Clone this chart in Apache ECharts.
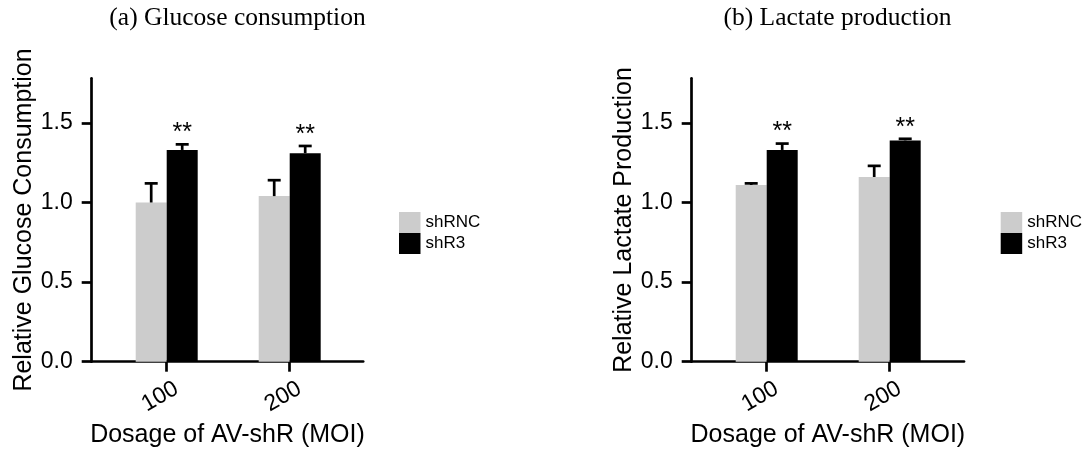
<!DOCTYPE html>
<html><head><meta charset="utf-8">
<script src="https://cdn.jsdelivr.net/npm/echarts@6/dist/echarts.min.js"></script>
<style>html,body{margin:0;padding:0;background:#fff}#c{width:1089px;height:454px}</style>
</head><body><div id="c"></div>
<script>
// ---- data ----
const categories = ['100', '200'];
const seriesNames = ['shRNC', 'shR3'];
const glucoseRNC = [1.00, 1.04];
const glucoseRNCErr = [0.12, 0.10];
const glucoseR3 = [1.33, 1.31];
const glucoseR3Err = [0.035, 0.045];
const glucoseSig = ['**', '**'];
const lactateRNC = [1.11, 1.16];
const lactateRNCErr = [0.01, 0.07];
const lactateR3 = [1.33, 1.39];
const lactateR3Err = [0.04, 0.01];
const lactateSig = ['**', '**'];
const yTicks = [0, 0.5, 1.0, 1.5];
const yMax = 1.78;
const panelTitles = ['(a) Glucose consumption', '(b) Lactate production'];
const yNames = ['Relative Glucose Consumption', 'Relative Lactate Production'];
const xName = 'Dosage of AV-shR (MOI)';

// ---- layout / style ----
const SANS = '"Liberation Sans", Arial, Helvetica, sans-serif';
const SERIF = '"Liberation Serif", "Times New Roman", serif';
const COLORS = ['#cccccc', '#000000'];
const TOP = 78.3, HEIGHT = 283.4, BARW = 31, LW = 2.7;
const panels = [
  { frameLeft: 91.7, frameWidth: 271.5, barLeft: 105.2, titleX: 237.5, legendLeft: 399,
    rnc: glucoseRNC, rncErr: glucoseRNCErr, r3: glucoseR3, r3Err: glucoseR3Err, sig: glucoseSig },
  { frameLeft: 691.7, frameWidth: 272.3, barLeft: 705.2, titleX: 837.5, legendLeft: 1000.7,
    rnc: lactateRNC, rncErr: lactateRNCErr, r3: lactateR3, r3Err: lactateR3Err, sig: lactateSig }
];

function errRender(offset, sig) {
  return function (params, api) {
    const i = api.value(0), v = api.value(1), e = api.value(2);
    const p0 = api.coord([i, v]);
    const p1 = api.coord([i, v + e]);
    const x = p0[0] + offset;
    const children = [
      { type: 'line', shape: { x1: x, y1: p0[1], x2: x, y2: p1[1] }, style: { stroke: '#000', lineWidth: LW } },
      { type: 'line', shape: { x1: x - 6.5, y1: p1[1], x2: x + 6.5, y2: p1[1] }, style: { stroke: '#000', lineWidth: LW } }
    ];
    if (sig && sig[params.dataIndex]) {
      children.push({ type: 'text', style: { text: sig[params.dataIndex], x: x, y: p1[1] - 11,
        align: 'center', verticalAlign: 'middle', font: '25px ' + SANS, fill: '#000' } });
    }
    return { type: 'group', children: children };
  };
}

const option = { animation: false, backgroundColor: '#fff',
  title: [], grid: [], xAxis: [], yAxis: [], series: [], legend: [] };

panels.forEach(function (p, k) {
  const gFrame = 2 * k, gBar = 2 * k + 1;
  option.title.push({ text: panelTitles[k], left: p.titleX, top: 5, textAlign: 'center', padding: 0,
    textStyle: { fontFamily: SERIF, fontSize: 25.5, fontWeight: 'normal', color: '#000' } });
  option.grid.push({ left: p.frameLeft, top: TOP, width: p.frameWidth, height: HEIGHT });
  option.grid.push({ left: p.barLeft, top: TOP, width: 246, height: HEIGHT });
  // frame axes (x axis line + axis name)
  option.xAxis.push({ type: 'value', gridIndex: gFrame, min: 0, max: 1,
    axisLine: { show: true, lineStyle: { color: '#000', width: LW } },
    axisTick: { show: false }, axisLabel: { show: false }, splitLine: { show: false },
    name: xName, nameLocation: 'middle', nameGap: 61,
    nameTextStyle: { fontFamily: SANS, fontSize: 25, color: '#000' } });
  option.yAxis.push({ type: 'value', gridIndex: gFrame, min: 0, max: yMax, show: false });
  // bar axes
  option.xAxis.push({ type: 'category', gridIndex: gBar, data: categories,
    axisLine: { show: false },
    axisTick: { show: true, alignWithLabel: true, length: 10, lineStyle: { color: '#000', width: LW } },
    axisLabel: { rotate: 30, margin: 8, verticalAlign: 'top', lineHeight: 40,
      fontFamily: SANS, fontSize: 23, color: '#000' },
    splitLine: { show: false } });
  option.yAxis.push({ type: 'value', gridIndex: gBar, min: 0, max: yMax, offset: p.barLeft - p.frameLeft,
    axisLine: { show: true, lineStyle: { color: '#000', width: LW } },
    axisTick: { show: true, length: 10, customValues: yTicks, lineStyle: { color: '#000', width: LW } },
    axisLabel: { customValues: yTicks, margin: 19, fontFamily: SANS, fontSize: 23, color: '#000',
      formatter: function (v) { return v.toFixed(1); } },
    splitLine: { show: false },
    name: yNames[k], nameLocation: 'middle', nameGap: 54,
    nameTextStyle: { fontFamily: SANS, fontSize: 25, color: '#000' } });
  const xi = 2 * k + 1, yi = 2 * k + 1;
  option.series.push({ name: seriesNames[0], type: 'bar', xAxisIndex: xi, yAxisIndex: yi,
    barWidth: BARW, barGap: '0%', itemStyle: { color: COLORS[0] }, data: p.rnc });
  option.series.push({ name: seriesNames[1], type: 'bar', xAxisIndex: xi, yAxisIndex: yi,
    barWidth: BARW, barGap: '0%', itemStyle: { color: COLORS[1] }, data: p.r3 });
  option.series.push({ type: 'custom', xAxisIndex: xi, yAxisIndex: yi, z: 5,
    renderItem: errRender(-BARW / 2, null),
    data: categories.map(function (c, i) { return [i, p.rnc[i], p.rncErr[i]]; }) });
  option.series.push({ type: 'custom', xAxisIndex: xi, yAxisIndex: yi, z: 5,
    renderItem: errRender(BARW / 2, p.sig),
    data: categories.map(function (c, i) { return [i, p.r3[i], p.r3Err[i]]; }) });
  option.legend.push({ orient: 'vertical', left: p.legendLeft, top: 212, padding: 0,
    itemWidth: 21.5, itemHeight: 21, itemGap: 0, icon: 'rect', selectedMode: false,
    data: seriesNames,
    textStyle: { fontFamily: SANS, fontSize: 17, color: '#000', lineHeight: 21 } });
});

const chart = echarts.init(document.getElementById('c'), null, { renderer: 'canvas' });
chart.setOption(option);
</script>
</body></html>
